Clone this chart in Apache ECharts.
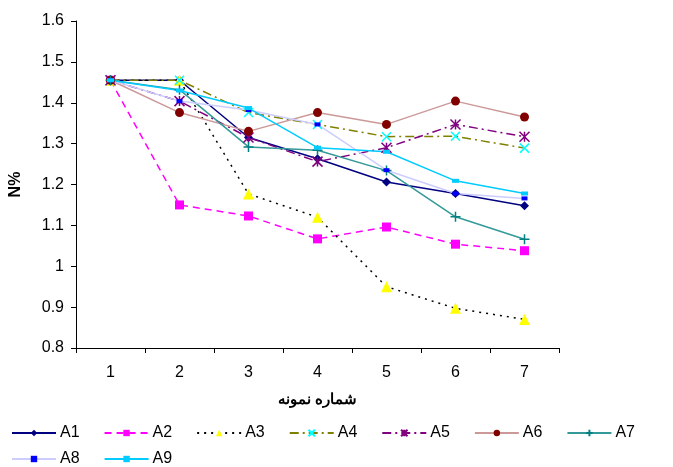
<!DOCTYPE html>
<html><head><meta charset="utf-8">
<script src="https://cdn.jsdelivr.net/npm/echarts@6/dist/echarts.min.js"></script>
<style>html,body{margin:0;padding:0;background:#fff}#c{width:673px;height:467px}</style>
</head><body><div id="c"></div>
<script>
var categories = ['1','2','3','4','5','6','7'];
var A1 = [1.455, 1.455, 1.315, 1.263, 1.206, 1.178, 1.148];
var A2 = [1.455, 1.150, 1.123, 1.067, 1.096, 1.054, 1.038];
var A3 = [1.455, 1.455, 1.177, 1.120, 0.950, 0.897, 0.870];
var A4 = [1.455, 1.455, 1.376, 1.347, 1.317, 1.318, 1.289];
var A5 = [1.455, 1.404, 1.315, 1.256, 1.290, 1.347, 1.317];
var A6 = [1.455, 1.376, 1.330, 1.376, 1.347, 1.404, 1.365];
var A7 = [1.455, 1.432, 1.292, 1.284, 1.234, 1.121, 1.066];
var A8 = [1.455, 1.404, 1.382, 1.347, 1.235, 1.178, 1.166];
var A9 = [1.455, 1.430, 1.387, 1.290, 1.280, 1.209, 1.178];
var names = ['A1','A2','A3','A4','A5','A6','A7','A8','A9'];
var values = [A1,A2,A3,A4,A5,A6,A7,A8,A9];

var X = 'path://M0 0L10 10M10 0L0 10';
var AST = 'path://M0 0L10 10M10 0L0 10M5 0L5 10';
var PLUS = 'path://M5 0L5 10M0 5L10 5';

var styles = [
  {line:'#000080', lw:1.5, type:'solid', sym:'diamond', size:9, fill:'#000080'},
  {line:'#FF00FF', lw:1.5, type:[7,5], sym:'rect', size:9, fill:'#FF00FF'},
  {line:'#000000', lw:1.5, type:[2,5], sym:'triangle', size:11, fill:'#FFFF00'},
  {line:'#808000', lw:1.5, type:[9,4,2,4], sym:X, size:9, fill:'none', border:'#00FFFF'},
  {line:'#800080', lw:1.5, type:[9,4,2,4], sym:AST, size:10, fill:'none', border:'#800080'},
  {line:'#CC9999', lw:1.5, type:'solid', sym:'circle', size:9, fill:'#800000'},
  {line:'#339999', lw:1.5, type:'solid', sym:PLUS, size:10, fill:'none', border:'#008080'},
  {line:'#CCCCFF', lw:1.5, type:'solid', sym:'rect', size:[6,4], fill:'#0000FF'},
  {line:'#00CCFF', lw:1.5, type:'solid', sym:'rect', size:[7,4], fill:'#00CCFF'}
];

var series = names.map(function(n,i){
  var s = styles[i];
  var item = s.fill === 'none'
    ? {color:'transparent', borderColor:s.border, borderWidth:1.5}
    : {color:s.fill, borderWidth:0};
  return {
    name:n, type:'line', data:values[i],
    symbol:s.sym, symbolSize:s.size, showAllSymbol:true,
    lineStyle:{color:s.line, width:s.lw, type:s.type},
    itemStyle:item,
    emphasis:{disabled:true},
    animation:false
  };
});

var font = 'Liberation Sans, Arial, sans-serif';
var chart = echarts.init(document.getElementById('c'), null, {renderer:'canvas'});
var legendCommon = {
  itemWidth:44, itemHeight:8, itemGap:24,
  textStyle:{fontFamily:font, fontSize:16, color:'#000', padding:[0,0,0,-1]},
  selectedMode:false, padding:0
};
chart.setOption({
  animation:false,
  backgroundColor:'#fff',
  grid:{left:75, right:114, top:21, bottom:119},
  legend:[
    Object.assign({data:names.slice(0,7), left:11, top:425}, legendCommon),
    Object.assign({data:names.slice(7), left:11, top:451}, legendCommon)
  ],
  xAxis:{
    type:'category', data:categories, boundaryGap:true,
    name:'شماره نمونه', nameLocation:'middle', nameGap:44,
    nameTextStyle:{fontFamily:font, fontSize:15, fontWeight:'bold', color:'#000'},
    axisLine:{lineStyle:{color:'#000', width:1}},
    axisTick:{show:true, length:5, inside:false, lineStyle:{color:'#000'}},
    axisLabel:{fontFamily:font, fontSize:16, color:'#000', margin:17},
    splitLine:{show:false}
  },
  yAxis:{
    type:'value', min:0.8, max:1.6, interval:0.1,
    name:'N%', nameLocation:'middle', nameGap:52, nameRotate:90,
    nameTextStyle:{fontFamily:font, fontSize:16, fontWeight:'bold', color:'#000'},
    axisLine:{show:true, lineStyle:{color:'#000', width:1}},
    axisTick:{show:true, length:5, lineStyle:{color:'#000'}},
    axisLabel:{fontFamily:font, fontSize:16, color:'#000', margin:12,
      formatter:function(v){return String(Math.round(v*10)/10);}},
    splitLine:{show:false}
  },
  series:series
});
</script></body></html>
